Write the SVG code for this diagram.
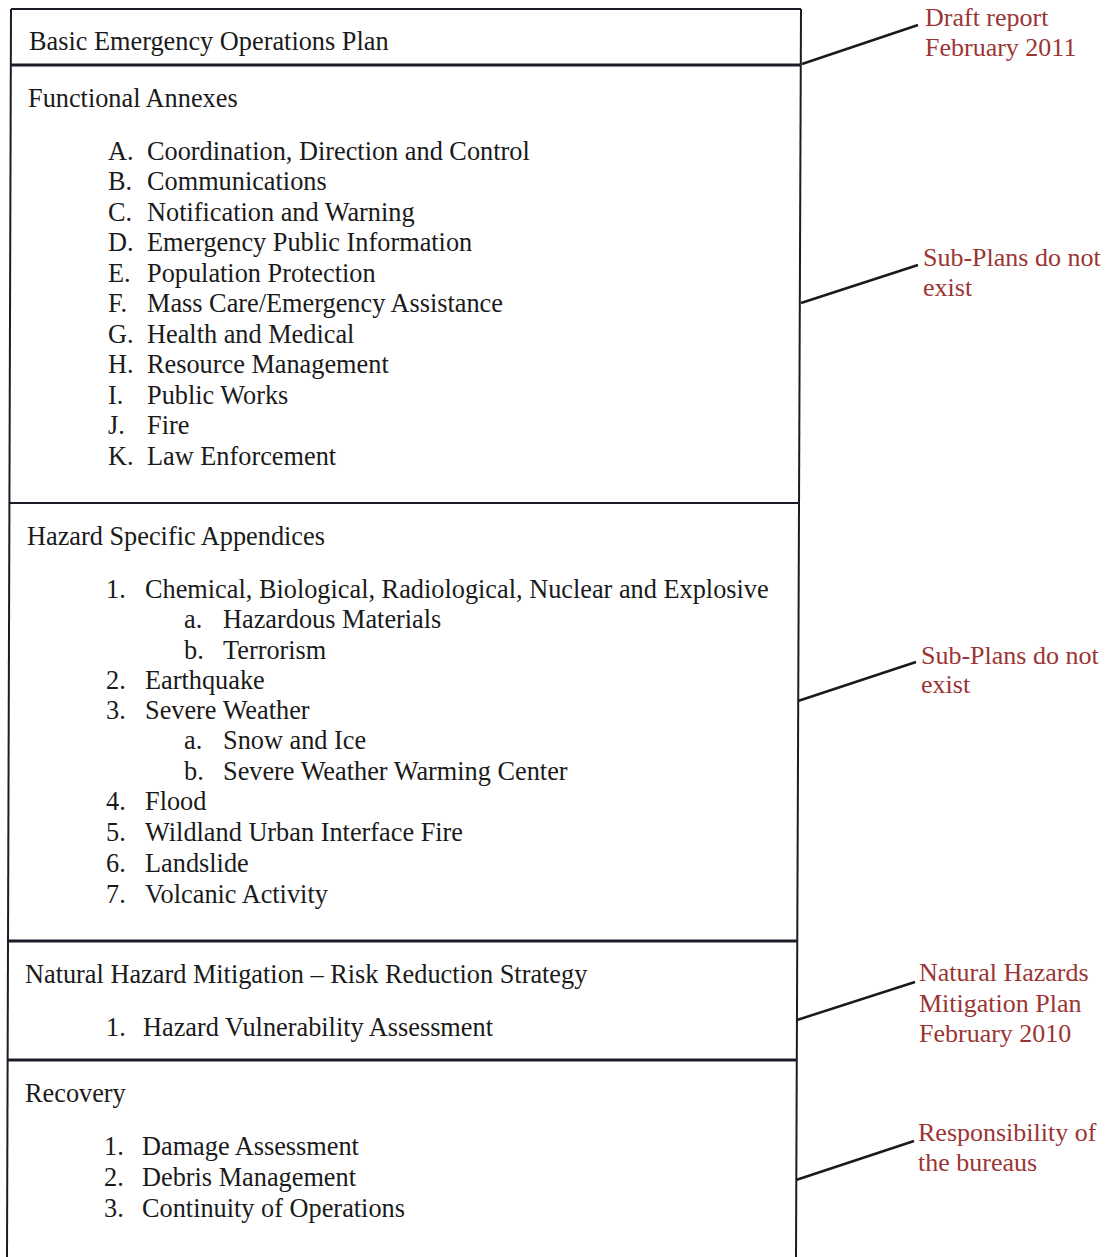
<svg xmlns="http://www.w3.org/2000/svg" width="1107" height="1257" viewBox="0 0 1107 1257">
<style>
.t{font-family:"Liberation Serif","Times New Roman",serif;font-size:26.3px;fill:#1a1a1a}
.r{font-family:"Liberation Serif","Times New Roman",serif;font-size:26px;fill:#9b3535}
.b{fill:none;stroke:#1c1c28;stroke-width:2}
.h{fill:none;stroke:#1c1c28;stroke-width:3}
.c{fill:none;stroke:#1a1a1a;stroke-width:2.5}
</style>
<rect width="1107" height="1257" fill="#ffffff"/>
<g id="frame">
<polyline class="b" points="11,9 801,9"/>
<polyline class="b" points="11,9 7,1257"/>
<polyline class="b" points="801,9 796,1257"/>
<polyline class="h" points="11,65 801,65"/>
<polyline class="b" points="9,503 799,503"/>
<polyline class="h" points="8,941 797,941"/>
<polyline class="h" points="7,1060 797,1060"/>
</g>
<g id="basic-plan">
<text class="t" x="29" y="50">Basic Emergency Operations Plan</text>
</g>
<g id="functional-annexes">
<text class="t" x="28" y="107">Functional Annexes</text>
<text class="t" x="108" y="160">A.</text><text class="t" x="147" y="160">Coordination, Direction and Control</text>
<text class="t" x="108" y="190">B.</text><text class="t" x="147" y="190">Communications</text>
<text class="t" x="108" y="221">C.</text><text class="t" x="147" y="221">Notification and Warning</text>
<text class="t" x="108" y="251">D.</text><text class="t" x="147" y="251">Emergency Public Information</text>
<text class="t" x="108" y="282">E.</text><text class="t" x="147" y="282">Population Protection</text>
<text class="t" x="108" y="312">F.</text><text class="t" x="147" y="312">Mass Care/Emergency Assistance</text>
<text class="t" x="108" y="343">G.</text><text class="t" x="147" y="343">Health and Medical</text>
<text class="t" x="108" y="373">H.</text><text class="t" x="147" y="373">Resource Management</text>
<text class="t" x="108" y="404">I.</text><text class="t" x="147" y="404">Public Works</text>
<text class="t" x="108" y="434">J.</text><text class="t" x="147" y="434">Fire</text>
<text class="t" x="108" y="465">K.</text><text class="t" x="147" y="465">Law Enforcement</text>
</g>
<g id="hazard-appendices">
<text class="t" x="27" y="545">Hazard Specific Appendices</text>
<text class="t" x="106" y="598">1.</text><text class="t" x="145" y="598">Chemical, Biological, Radiological, Nuclear and Explosive</text>
<text class="t" x="184" y="628">a.</text><text class="t" x="223" y="628">Hazardous Materials</text>
<text class="t" x="184" y="659">b.</text><text class="t" x="223" y="659">Terrorism</text>
<text class="t" x="106" y="689">2.</text><text class="t" x="145" y="689">Earthquake</text>
<text class="t" x="106" y="719">3.</text><text class="t" x="145" y="719">Severe Weather</text>
<text class="t" x="184" y="749">a.</text><text class="t" x="223" y="749">Snow and Ice</text>
<text class="t" x="184" y="780">b.</text><text class="t" x="223" y="780">Severe Weather Warming Center</text>
<text class="t" x="106" y="810">4.</text><text class="t" x="145" y="810">Flood</text>
<text class="t" x="106" y="841">5.</text><text class="t" x="145" y="841">Wildland Urban Interface Fire</text>
<text class="t" x="106" y="872">6.</text><text class="t" x="145" y="872">Landslide</text>
<text class="t" x="106" y="903">7.</text><text class="t" x="145" y="903">Volcanic Activity</text>
</g>
<g id="mitigation">
<text class="t" x="25" y="983">Natural Hazard Mitigation – Risk Reduction Strategy</text>
<text class="t" x="106" y="1036">1.</text><text class="t" x="143" y="1036">Hazard Vulnerability Assessment</text>
</g>
<g id="recovery">
<text class="t" x="25" y="1102">Recovery</text>
<text class="t" x="104" y="1155">1.</text><text class="t" x="142" y="1155">Damage Assessment</text>
<text class="t" x="104" y="1186">2.</text><text class="t" x="142" y="1186">Debris Management</text>
<text class="t" x="104" y="1217">3.</text><text class="t" x="142" y="1217">Continuity of Operations</text>
</g>
<g id="note-draft">
<text class="r" x="925" y="26">Draft report</text>
<text class="r" x="925" y="56">February 2011</text>
</g>
<g id="note-subplans-1">
<text class="r" x="923" y="266">Sub-Plans do not</text>
<text class="r" x="923" y="296">exist</text>
</g>
<g id="note-subplans-2">
<text class="r" x="921" y="664">Sub-Plans do not</text>
<text class="r" x="921" y="693">exist</text>
</g>
<g id="note-mitigation">
<text class="r" x="919" y="981">Natural Hazards</text>
<text class="r" x="919" y="1012">Mitigation Plan</text>
<text class="r" x="919" y="1042">February 2010</text>
</g>
<g id="note-recovery">
<text class="r" x="918" y="1141">Responsibility of</text>
<text class="r" x="918" y="1171">the bureaus</text>
</g>
<g id="connectors">
<line class="c" x1="802" y1="64" x2="918" y2="25"/>
<line class="c" x1="801" y1="303" x2="918" y2="265"/>
<line class="c" x1="798" y1="701" x2="916" y2="662"/>
<line class="c" x1="797" y1="1020" x2="915" y2="982"/>
<line class="c" x1="796" y1="1180" x2="914" y2="1141"/>
</g>
</svg>
